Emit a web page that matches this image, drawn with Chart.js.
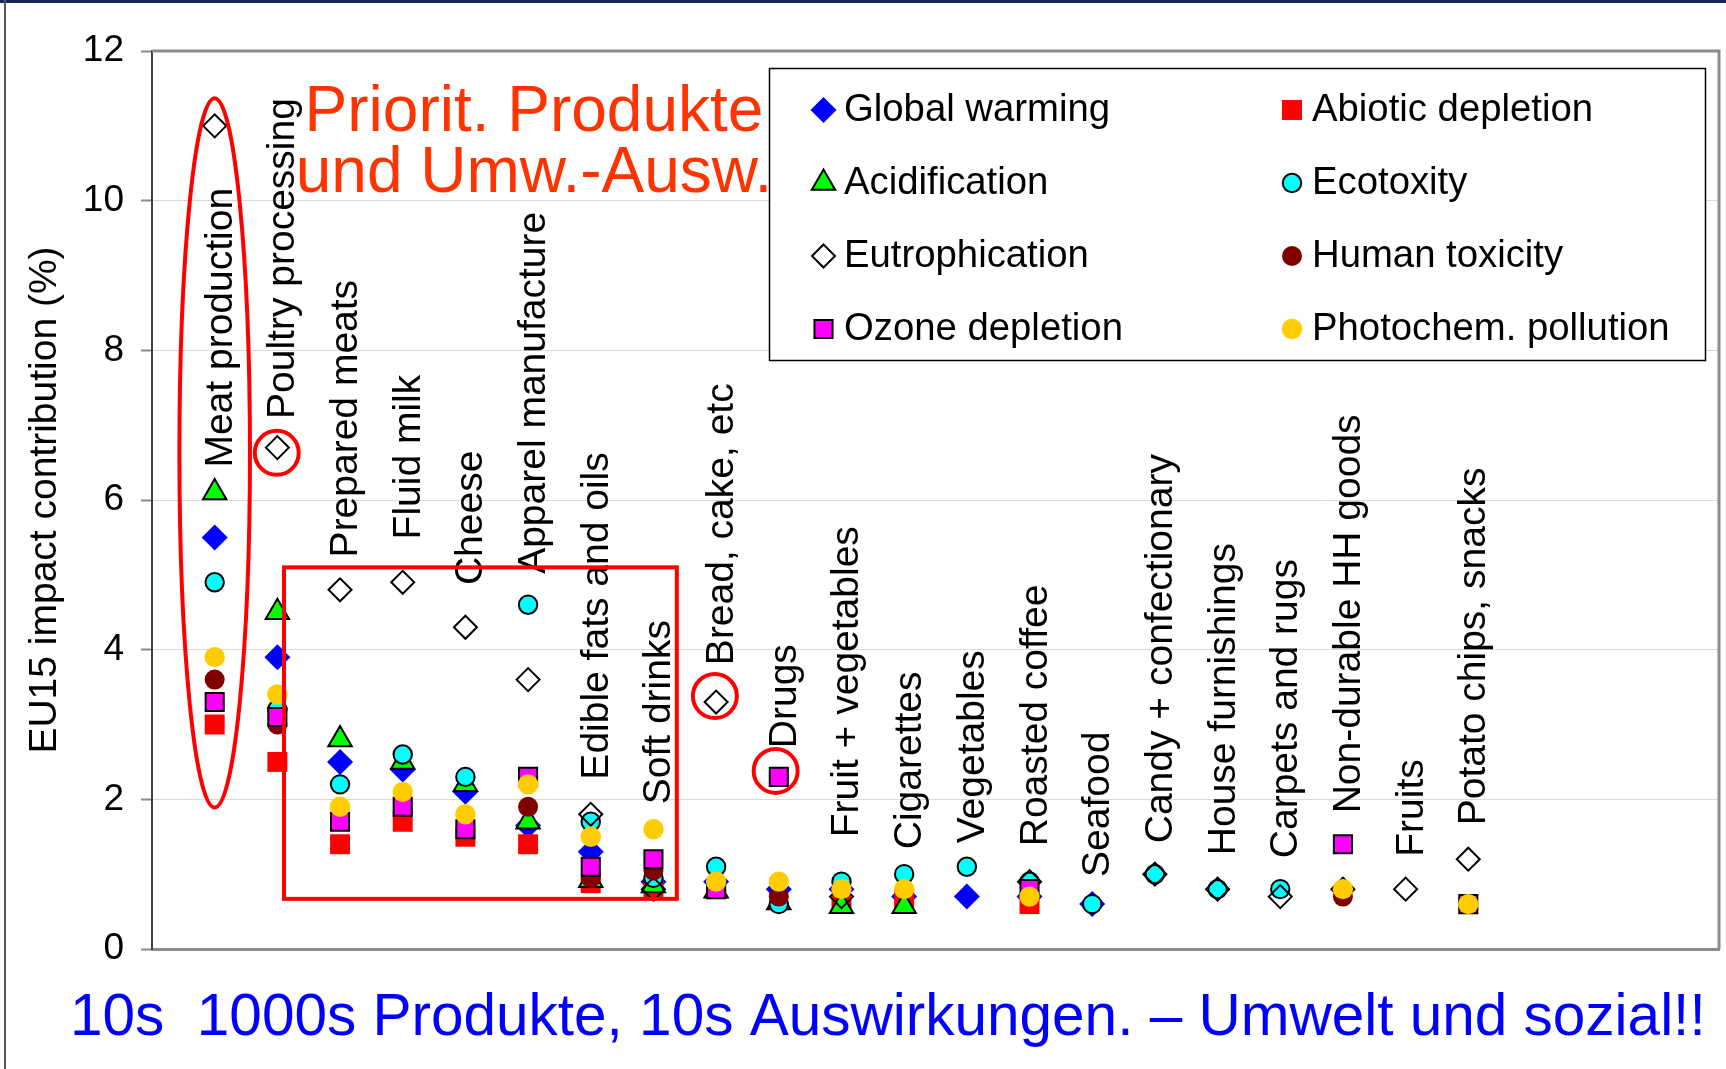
<!DOCTYPE html>
<html lang="de">
<head>
<meta charset="utf-8">
<title>EU15 impact contribution</title>
<script src="https://cdn.jsdelivr.net/npm/chart.js@4.4.1/dist/chart.umd.min.js"></script>
<style>
  html, body { margin: 0; padding: 0; background: #fff; overflow: hidden; }
  #wrap { width: 1726px; height: 1069px; position: relative; }
  #grafico { display: block; }
</style>
</head>
<body>
<div id="wrap"><canvas id="grafico" width="1726" height="1069"></canvas></div>
<script>
// Produktgruppen (links nach rechts)
const categorias = [
  'Meat production', 'Poultry processing', 'Prepared meats', 'Fluid milk', 'Cheese',
  'Apparel manufacture', 'Edible fats and oils', 'Soft drinks', 'Bread, cake, etc', 'Drugs',
  'Fruit + vegetables', 'Cigarettes', 'Vegetables', 'Roasted coffee', 'Seafood',
  'Candy + confectionary', 'House furnishings', 'Carpets and rugs', 'Non-durable HH goods',
  'Fruits', 'Potato chips, snacks'
];

// Werte pro Wirkungskategorie (%), null = kein Punkt
const globalWarming   = [5.5, 3.9, 2.5, 2.4, 2.1, 1.65, 1.3, 0.9, 0.9, 0.8, 0.8, 0.7, 0.7, 0.7, 0.6, null, null, null, null, null, null];
const abioticDepl     = [3.0, 2.5, 1.4, 1.7, 1.5, 1.4, 0.88, 0.8, 0.8, null, 0.6, 0.68, null, 0.6, null, null, null, null, null, null, null];
const acidification   = [6.1, 4.5, 2.8, 2.5, 2.2, 1.7, 0.92, 0.85, 0.78, 0.62, 0.57, 0.57, null, null, null, null, null, null, null, null, null];
const ecotoxity       = [4.9, 3.2, 2.2, 2.6, 2.3, 4.6, 1.7, 0.95, 1.1, 0.6, 0.9, 1.0, 1.1, 0.9, 0.6, 1.0, 0.8, 0.8, null, null, null];
const eutrophication  = [11.0, 6.7, 4.8, 4.9, 4.3, 3.6, 1.8, 0.8, 3.3, null, 0.7, null, null, 0.9, null, 1.0, 0.8, 0.7, 0.8, 0.8, 1.2];
const humanToxicity   = [3.6, 3.0, null, null, null, 1.9, 0.95, 1.05, null, 0.7, null, null, null, null, null, null, null, null, 0.7, null, null];
const ozoneDepl       = [3.3, 3.1, 1.7, 1.9, 1.6, 2.3, 1.1, 1.2, 0.8, 2.3, null, null, null, 0.8, null, null, null, null, 1.4, null, 0.6];
const photochem       = [3.9, 3.4, 1.9, 2.1, 1.8, 2.2, 1.5, 1.6, 0.9, 0.9, 0.8, 0.8, null, 0.7, null, null, null, null, 0.8, null, 0.6];

// Wo die senkrechte Beschriftung jeder Gruppe beginnt (Wert auf der y-Achse)
const rotuloInicio = [6.46, 7.11, 5.26, 5.5, 4.89, 5.04, 2.29, 1.96, 3.82, 2.71, 1.52, 1.36, 1.44, 1.4, 0.99, 1.44, 1.28, 1.24, 1.84, 1.26, 1.68];

// Rote Markierungen (in Achsenwerten)
const elipse = { x: 1, y: 6.63, rx: 0.563, ry: 4.74 };
const circulos = [{ x: 1.99, y: 6.63 }, { x: 8.98, y: 3.38 }, { x: 9.95, y: 2.38 }];
const retangulo = { x0: 2.106, x1: 8.373, y0: 0.67, y1: 5.1 };

const FONTE = '"Liberation Sans", Arial, sans-serif';

const series = [
  { label: 'Global warming', data: globalWarming, estilo: 'rectRot', raio: 13, cor: '#0000ff', borda: '#0000ff', bw: 0 },
  { label: 'Abiotic depletion', data: abioticDepl, estilo: 'rect', raio: 14.1, cor: '#ff0000', borda: '#ff0000', bw: 0 },
  { label: 'Acidification', data: acidification, estilo: 'triangle', raio: 13.5, cor: '#00ff00', borda: '#000000', bw: 2 },
  { label: 'Ecotoxity', data: ecotoxity, estilo: 'circle', raio: 9.2, cor: '#00ffff', borda: '#000000', bw: 2 },
  { label: 'Eutrophication', data: eutrophication, estilo: 'rectRot', raio: 11.5, cor: 'rgba(255,255,255,0)', borda: '#000000', bw: 2 },
  { label: 'Human toxicity', data: humanToxicity, estilo: 'circle', raio: 10, cor: '#800000', borda: '#800000', bw: 0 },
  { label: 'Ozone depletion', data: ozoneDepl, estilo: 'rect', raio: 12.8, cor: '#ff00ff', borda: '#000000', bw: 2 },
  { label: 'Photochem. pollution', data: photochem, estilo: 'circle', raio: 10.2, cor: '#ffcc00', borda: '#ffcc00', bw: 0 }
];

const datasets = series.map((s, i) => ({
  label: s.label,
  data: s.data.map((v, j) => ({ x: j + 1, y: v })),
  showLine: false,
  pointStyle: s.estilo,
  pointRadius: s.raio,
  pointHoverRadius: s.raio,
  pointBackgroundColor: s.cor,
  pointBorderColor: s.borda,
  pointBorderWidth: s.bw,
  backgroundColor: s.cor,
  borderColor: s.borda,
  order: series.length - i
}));

// desenha um marcador igual ao do gráfico (para a legenda)
function marcador(ctx, s, x, y) {
  ctx.save();
  ctx.fillStyle = s.cor;
  ctx.strokeStyle = s.borda;
  ctx.lineWidth = s.bw;
  Chart.helpers.drawPoint(ctx, { pointStyle: s.estilo, rotation: 0, radius: s.raio, borderWidth: s.bw }, x, y);
  ctx.restore();
}

const extras = {
  id: 'extras',
  afterDatasetsDraw(chart) {
    const ctx = chart.ctx;
    const xs = chart.scales.x;
    const ys = chart.scales.y;

    // Beschriftungen der Produktgruppen
    ctx.save();
    ctx.font = '39px ' + FONTE;
    ctx.fillStyle = '#000';
    ctx.textAlign = 'left';
    ctx.textBaseline = 'alphabetic';
    categorias.forEach((nome, i) => {
      const px = xs.getPixelForValue(i + 1) + 17;
      const py = ys.getPixelForValue(rotuloInicio[i]) + 2;
      ctx.save();
      ctx.translate(px, py);
      ctx.rotate(-Math.PI / 2);
      ctx.fillText(nome, 0, 0);
      ctx.restore();
    });
    ctx.restore();

    // rote Ellipse, Kreise und Rechteck
    ctx.save();
    ctx.strokeStyle = '#ff0000';
    ctx.lineWidth = 4;
    const ex = xs.getPixelForValue(elipse.x);
    const ey = ys.getPixelForValue(elipse.y);
    const erx = xs.getPixelForValue(elipse.x + elipse.rx) - ex;
    const ery = ey - ys.getPixelForValue(elipse.y + elipse.ry);
    ctx.beginPath();
    ctx.ellipse(ex, ey, erx, ery, 0, 0, Math.PI * 2);
    ctx.stroke();
    circulos.forEach(c => {
      ctx.beginPath();
      ctx.arc(xs.getPixelForValue(c.x), ys.getPixelForValue(c.y), 22, 0, Math.PI * 2);
      ctx.stroke();
    });
    const rx0 = xs.getPixelForValue(retangulo.x0);
    const rx1 = xs.getPixelForValue(retangulo.x1);
    const ry0 = ys.getPixelForValue(retangulo.y1);
    const ry1 = ys.getPixelForValue(retangulo.y0);
    ctx.strokeRect(rx0, ry0, rx1 - rx0, ry1 - ry0);
    ctx.restore();

    // Überschrift
    ctx.save();
    ctx.font = '64px ' + FONTE;
    ctx.fillStyle = '#ff3300';
    ctx.textAlign = 'center';
    ctx.textBaseline = 'alphabetic';
    ctx.fillText('Priorit. Produkte', 534, 131);
    ctx.fillText('und Umw.-Ausw.', 534, 192);
    ctx.restore();
  },
  afterDraw(chart) {
    const ctx = chart.ctx;
    const a = chart.chartArea;

    // Rahmen oben / rechts
    ctx.save();
    ctx.strokeStyle = '#8c8c8c';
    ctx.lineWidth = 3;
    ctx.beginPath();
    ctx.moveTo(a.left, a.top);
    ctx.lineTo(a.right, a.top);
    ctx.lineTo(a.right, a.bottom);
    ctx.stroke();
    ctx.restore();

    // Legende
    ctx.save();
    ctx.fillStyle = '#fff';
    ctx.fillRect(769.5, 68.5, 936, 292);
    ctx.strokeStyle = '#000';
    ctx.lineWidth = 1.5;
    ctx.strokeRect(769.5, 68.5, 936, 292);
    ctx.font = '38.3px ' + FONTE;
    ctx.fillStyle = '#000';
    ctx.textAlign = 'left';
    ctx.textBaseline = 'middle';
    const linhas = [110, 183, 256, 329];
    const colMarc = [823.5, 1292];
    const colTexto = [844, 1312];
    series.forEach((s, i) => {
      const lin = Math.floor(i / 2);
      const col = i % 2;
      marcador(ctx, s, colMarc[col], linhas[lin]);
      ctx.fillStyle = '#000';
      ctx.fillText(s.label, colTexto[col], linhas[lin]);
    });
    ctx.restore();

    // Fußzeile
    ctx.save();
    ctx.font = '58.5px ' + FONTE;
    ctx.fillStyle = '#0000ff';
    ctx.textAlign = 'left';
    ctx.textBaseline = 'alphabetic';
    ctx.fillText('10s  1000s Produkte, 10s Auswirkungen. \u2013 Umwelt und sozial!!', 70, 1035);
    ctx.restore();

    // Folienrand
    ctx.save();
    ctx.fillStyle = '#1b2757';
    ctx.fillRect(0, 0, chart.width, 3);
    ctx.fillStyle = '#555';
    ctx.fillRect(4, 0, 2, chart.height);
    ctx.restore();
  }
};

const grafico = new Chart(document.getElementById('grafico'), {
  type: 'scatter',
  data: { datasets: datasets },
  options: {
    responsive: false,
    animation: false,
    events: [],
    layout: { autoPadding: false, padding: { top: 51, right: 7, left: 0, bottom: 0 } },
    plugins: {
      legend: { display: false },
      tooltip: { enabled: false }
    },
    scales: {
      x: {
        type: 'linear',
        min: 0,
        max: 25,
        ticks: { display: false },
        grid: { display: false },
        border: { display: true, color: '#8c8c8c', width: 3 },
        afterFit: s => { s.height = 120; }
      },
      y: {
        min: 0,
        max: 12,
        ticks: { stepSize: 2, color: '#000', padding: 17, font: { family: FONTE, size: 37 } },
        grid: { color: '#d9d9d9', lineWidth: 1, tickLength: 11, tickColor: '#8c8c8c', tickWidth: 2 },
        border: { color: '#404040', width: 2 },
        title: {
          display: true,
          text: 'EU15 impact contribution (%)',
          color: '#000',
          font: { family: FONTE, size: 39 },
          padding: { top: 22, bottom: 0 }
        },
        afterFit: s => { s.width = 152; }
      }
    }
  },
  plugins: [extras]
});
</script>
</body>
</html>
